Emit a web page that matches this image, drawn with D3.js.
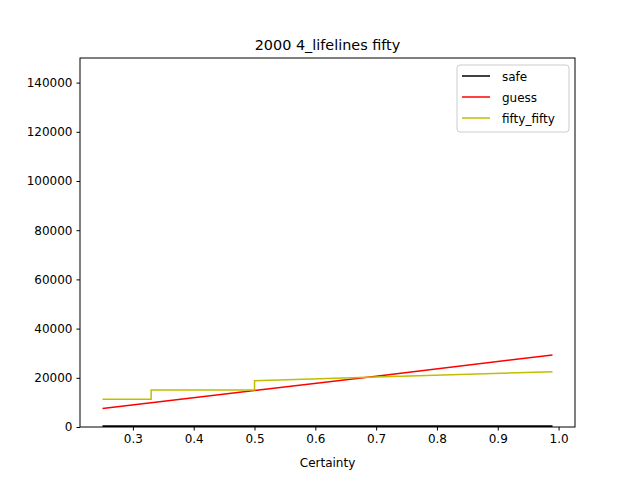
<!DOCTYPE html>
<html><head><meta charset="utf-8">
<script src="https://cdn.jsdelivr.net/npm/d3@7"></script>
<style>body{margin:0;background:#fff}text{font-family:"DejaVu Sans",sans-serif}</style>
</head><body>
<script>
const title = "2000 4_lifelines fifty";
const safeX = [0.25, 0.99];
const safeY = [200, 200];
const guessX = [0.25, 0.5, 0.7, 0.99];
const guessY = [7500, 14800, 20600, 29300];
const fiftyX = [0.25, 0.33, 0.33, 0.5, 0.5, 0.7, 0.99];
const fiftyY = [11300, 11300, 15000, 15000, 18800, 20300, 22500];
const xTicks = [0.3, 0.4, 0.5, 0.6, 0.7, 0.8, 0.9, 1.0];
const yTicks = [0, 20000, 40000, 60000, 80000, 100000, 120000, 140000];

const series = [
  {name: "safe", xs: safeX, ys: safeY, color: "#000000", w: 2.5},
  {name: "guess", xs: guessX, ys: guessY, color: "#ff0000", w: 1.5},
  {name: "fifty_fifty", xs: fiftyX, ys: fiftyY, color: "#bfbf00", w: 1.5}
];

const W = 640, H = 480, L = 80, R = 575, T = 58, B = 427;
const svg = d3.select("body").append("svg").attr("width", W).attr("height", H);
const x = d3.scaleLinear().domain([0.213, 1.027]).range([L, R]);
const y = d3.scaleLinear().domain([0, 150000]).range([B, T]);

const clip = svg.append("clipPath").attr("id", "c").append("rect")
  .attr("x", L).attr("y", T).attr("width", R - L).attr("height", B - T);

const line = d3.line().x(d => x(d[0])).y(d => y(d[1]));
svg.append("g").attr("clip-path", "url(#c)").selectAll("path").data(series).join("path")
  .attr("d", s => line(s.xs.map((v, i) => [v, s.ys[i]])))
  .attr("fill", "none").attr("stroke", s => s.color).attr("stroke-width", s => s.w);

const xa = svg.append("g").attr("transform", `translate(0,${B})`)
  .call(d3.axisBottom(x).tickValues(xTicks).tickFormat(d3.format(".1f")).tickSize(3.5).tickPadding(4));
const ya = svg.append("g").attr("transform", `translate(${L},0)`)
  .call(d3.axisLeft(y).tickValues(yTicks).tickFormat(d => d).tickSize(3.5).tickPadding(4));
[xa, ya].forEach(a => { a.selectAll("text").attr("font-size", 12).attr("fill", "#000"); a.select(".domain").remove(); });

svg.append("rect").attr("x", L).attr("y", T).attr("width", R - L).attr("height", B - T)
  .attr("fill", "none").attr("stroke", "#000").attr("stroke-width", 1);

svg.append("text").attr("x", (L + R) / 2).attr("y", 50).attr("text-anchor", "middle")
  .attr("font-size", 14.4).text(title);
svg.append("text").attr("x", (L + R) / 2).attr("y", 467).attr("text-anchor", "middle")
  .attr("font-size", 12).text("Certainty");

const lg = svg.append("g").attr("transform", "translate(457,65)");
lg.append("rect").attr("width", 112).attr("height", 67).attr("rx", 3)
  .attr("fill", "#fff").attr("stroke", "#ccc");
series.forEach((s, i) => {
  const gy = 11 + i * 21;
  lg.append("line").attr("x1", 5).attr("x2", 33).attr("y1", gy).attr("y2", gy)
    .attr("stroke", s.color).attr("stroke-width", 1.5);
  lg.append("text").attr("x", 45).attr("y", gy + 4.5).attr("font-size", 12).text(s.name);
});
</script>
</body></html>
